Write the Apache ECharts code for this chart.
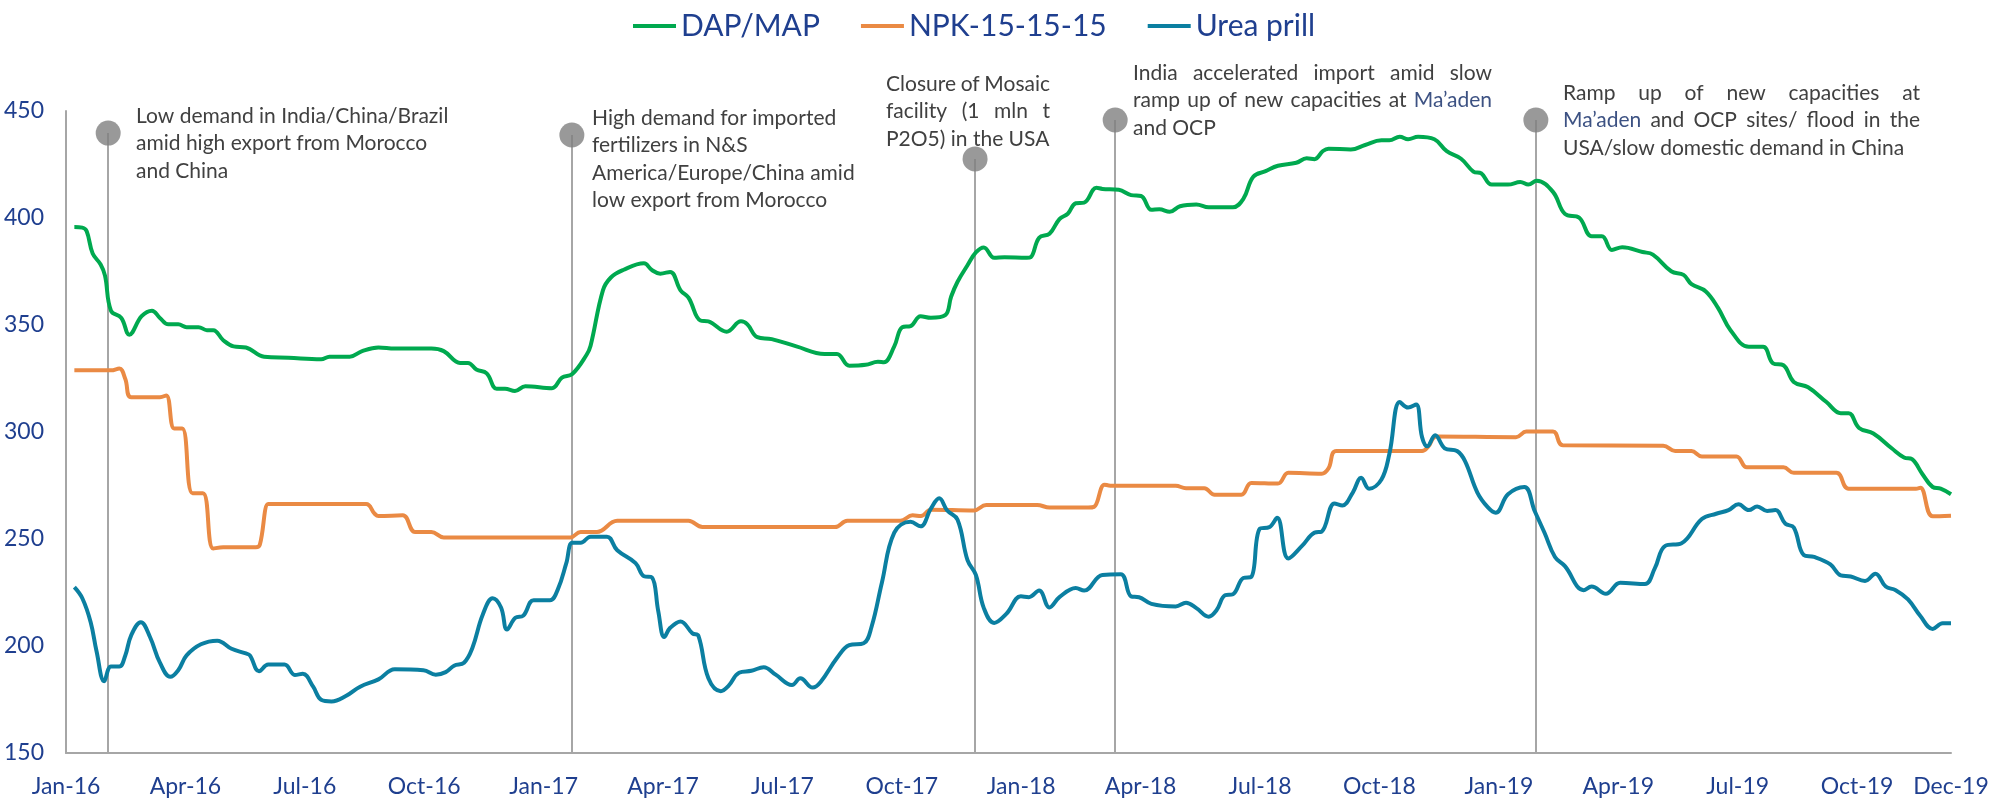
<!DOCTYPE html>
<html>
<head>
<meta charset="utf-8">
<script src="https://cdn.jsdelivr.net/npm/echarts@6/dist/echarts.min.js"></script>
<style>
html,body{margin:0;padding:0;background:#fff;}
#chart{width:2000px;height:806px;}
</style>
</head>
<body>
<div id="chart"></div>
<script>
// x values are months since 1 Jan 2016 (0 = Jan-16)
const seriesNames = ['DAP/MAP', 'NPK-15-15-15', 'Urea prill'];
const xTickLabels = ['Jan-16','Apr-16','Jul-16','Oct-16','Jan-17','Apr-17','Jul-17','Oct-17','Jan-18','Apr-18','Jul-18','Oct-18','Jan-19','Apr-19','Jul-19','Oct-19','Dec-19'];
const X_END = 47.36;

const dapMap = [[0.21,395.8],[0.41,395.5],[0.52,393.8],[0.67,383.4],[0.87,378.3],[0.98,373.1],[1.13,356.7],[1.39,353.3],[1.59,345.5],[1.9,354.1],[2.16,356.7],[2.36,353.3],[2.57,350.3],[2.82,350.3],[3.03,349],[3.33,349],[3.54,347.6],[3.7,347.6],[3.95,342.9],[4.21,340],[4.52,339.5],[4.98,335.2],[5.59,334.7],[6.41,334],[6.62,335.2],[7.13,335.2],[7.44,337.8],[7.85,339.5],[8.26,339],[9.18,339],[9.49,337.8],[9.9,332.3],[10.1,332.3],[10.31,329.2],[10.57,327.4],[10.82,320.2],[11.03,320.2],[11.28,319.2],[11.54,321.4],[12.21,320.5],[12.46,325.4],[12.72,327.1],[13.08,336.1],[13.18,340.3],[13.49,366.2],[13.69,372.2],[14.0,375.7],[14.52,378.8],[14.72,375.7],[14.93,374],[15.18,374.8],[15.44,366.2],[15.64,362.8],[15.94,352.1],[16.14,351.7],[16.6,346.9],[16.96,351.7],[17.12,350.3],[17.37,344.3],[17.73,343.4],[18.35,340],[19.06,336.5],[19.37,336.5],[19.68,331],[20.09,331.4],[20.4,332.8],[20.55,332.6],[20.81,340],[21.01,349],[21.22,349.5],[21.47,354.1],[21.73,353.4],[22.09,354.6],[22.24,363.3],[22.4,370.2],[22.65,377.9],[22.86,383.9],[23.06,386.2],[23.32,381.4],[23.58,381.7],[24.14,381.4],[24.24,381.7],[24.45,390.8],[24.71,392.6],[24.96,399.5],[25.17,402],[25.37,406.9],[25.58,407.2],[25.89,414.1],[26.04,413.6],[26.45,413.2],[26.76,410.7],[27.01,410.3],[27.27,403.8],[27.47,404.1],[27.73,402.9],[27.99,405.5],[28.4,406.3],[28.71,405],[29.32,405],[29.58,408.9],[29.83,419.3],[30.14,421.9],[30.45,424.4],[30.91,425.8],[31.17,427.9],[31.37,427.5],[31.58,431.3],[31.72,432.4],[32.28,432],[32.64,434.1],[33.05,436.3],[33.25,436.3],[33.51,438],[33.72,436.8],[33.97,438],[34.38,436.8],[34.69,431.2],[35.05,427.7],[35.36,421.7],[35.56,420.8],[35.82,415.6],[36.23,415.6],[36.54,416.8],[36.74,415.6],[36.95,417.4],[37.36,412.2],[37.66,401.9],[38.02,400.1],[38.33,391.5],[38.59,391.5],[38.84,385.1],[39.1,386.3],[39.61,384.1],[39.87,382.9],[40.33,375.1],[40.64,373.4],[40.84,369.1],[41.2,365.7],[41.51,357.9],[41.82,347.6],[42.28,339.8],[42.64,339.8],[42.89,332.1],[43.15,331.2],[43.41,323.4],[43.77,320.9],[44.23,314],[44.59,308.8],[44.79,308.8],[45.05,301.9],[45.41,299.3],[45.87,292.4],[46.18,288.1],[46.38,287.3],[46.64,280.4],[46.9,274.3],[47.1,273.5],[47.36,270.9]];

const npk = [[0.21,328.8],[1.13,328.8],[1.34,329.7],[1.49,324.8],[1.64,316.2],[2.36,316.2],[2.52,317.1],[2.72,301.6],[2.92,301.6],[3.18,271.4],[3.44,271.4],[3.7,245.6],[3.95,246.1],[4.77,246.1],[4.87,247.3],[5.08,266.3],[5.18,266.3],[7.54,266.3],[7.75,261.9],[7.85,260.7],[8.46,261.1],[8.77,253.3],[9.18,253.3],[9.49,250.7],[12.67,250.7],[12.93,253.3],[13.34,253.3],[13.85,258.5],[15.64,258.5],[15.99,255.6],[19.32,255.6],[19.63,258.5],[20.96,258.5],[21.27,261.1],[21.48,260.7],[21.73,263.7],[22.81,263.3],[23.12,265.9],[24.4,265.9],[24.71,264.7],[25.68,264.7],[25.83,265],[26.09,275.4],[26.24,274.9],[27.88,274.9],[28.14,273.7],[28.6,273.7],[28.86,270.7],[29.53,270.7],[29.78,276.2],[30.45,275.9],[30.71,280.9],[31.55,280.5],[31.72,283],[31.92,291.1],[34.07,291.1],[34.23,293.3],[34.43,297.9],[36.43,297.6],[36.69,300.2],[37.36,300.2],[37.61,293.8],[40.13,293.6],[40.43,291.1],[40.84,291.1],[41.1,288.6],[41.97,288.6],[42.23,283.5],[43.15,283.5],[43.41,280.9],[44.48,280.9],[44.79,273.5],[46.48,273.5],[46.59,274],[46.9,260.6],[47.36,260.9]];

const urea = [[0.21,227.5],[0.41,222.3],[0.62,211.1],[0.77,197.3],[0.96,183.5],[1.13,190.4],[1.34,190.4],[1.49,195.6],[1.64,205.1],[1.88,211.1],[2.11,204.2],[2.36,192.2],[2.62,185.6],[2.82,188.7],[3.03,195.6],[3.39,200.8],[3.8,202.5],[4.16,198.7],[4.52,196.5],[4.62,195.6],[4.85,188.2],[5.08,191.3],[5.49,191.3],[5.75,186.5],[5.95,187],[6.21,181],[6.41,174.9],[6.67,174.1],[7.03,176.6],[7.39,181],[7.85,184.4],[8.26,189.1],[8.98,188.7],[9.29,186.6],[9.54,187.8],[9.75,190.8],[10.0,192.2],[10.21,199.1],[10.47,214.6],[10.72,222.3],[10.93,218],[11.08,207.7],[11.29,213.2],[11.49,214.2],[11.75,221.4],[12.16,221.4],[12.36,226.6],[12.57,238.7],[12.72,248.2],[12.93,248.2],[13.18,251.1],[13.59,251.1],[13.85,244.7],[14.31,238.7],[14.52,232.6],[14.72,232.1],[14.88,216.3],[15.03,204.2],[15.18,208.5],[15.44,211.5],[15.74,205.9],[15.89,204.7],[16.14,184.9],[16.45,178.9],[16.65,181.5],[16.91,187.5],[17.22,188.4],[17.53,190.1],[17.83,186.6],[18.24,181.8],[18.45,184.9],[18.76,180.6],[18.96,183.2],[19.37,194.4],[19.68,200.4],[20.04,201.3],[20.24,209],[20.5,229.7],[20.81,253],[21.22,258.1],[21.47,255.9],[21.73,264.2],[21.94,269],[22.14,263.3],[22.4,259],[22.65,240.1],[22.86,233.2],[23.06,217.7],[23.32,210.8],[23.63,215.1],[23.99,223.2],[24.19,222.8],[24.45,225.9],[24.71,218],[24.96,222.8],[25.37,227.1],[25.58,225.9],[26.04,233.2],[26.5,233.5],[26.76,223.2],[26.96,222.8],[27.27,219.7],[27.88,218.5],[28.14,220.2],[28.4,217.7],[28.71,213.7],[28.91,216.8],[29.12,223.7],[29.32,224.2],[29.58,231.8],[29.78,232.3],[29.99,254.7],[30.24,255.6],[30.43,259.9],[30.71,240.9],[31.06,246.9],[31.37,253],[31.55,253.5],[31.87,266.6],[32.07,265.7],[32.33,271.7],[32.54,278.6],[32.74,273.5],[33.05,277.8],[33.25,289.8],[33.51,314],[33.72,311.4],[33.92,312.8],[34.07,297.6],[34.2,293.3],[34.4,298.5],[34.64,292.4],[34.95,291.1],[35.15,286.4],[35.46,271.7],[35.72,264.9],[35.92,262.3],[36.23,270.9],[36.64,274.3],[36.9,263.1],[37.15,252.8],[37.41,241.6],[37.66,237.3],[38.13,226.1],[38.33,227.8],[38.69,224.4],[39.05,229.5],[39.67,229],[39.92,236.4],[40.18,246.8],[40.59,248],[41.1,259.3],[41.46,261.8],[41.77,263.5],[42.02,266.2],[42.28,263.5],[42.49,265.2],[42.74,263.1],[42.95,263.5],[43.2,257.1],[43.41,255.4],[43.66,242.5],[43.92,241.6],[44.33,238.1],[44.59,233],[44.84,232.5],[45.2,230.4],[45.46,233.8],[45.72,227.8],[45.97,226.1],[46.28,221.8],[46.59,214],[46.9,208],[47.15,210.6],[47.36,210.6]];

// event markers: [month, value of the marker dot]
const events = [[1.06,439.7],[12.71,438.8],[22.84,427.6],[26.36,445.8],[36.93,445.8]];

const noteTexts = [
  ['Low demand in India/China/Brazil', 'amid high export from Morocco', 'and China'],
  ['High demand for imported', 'fertilizers in N&S', 'America/Europe/China amid', 'low export from Morocco'],
  ['Closure of Mosaic', 'facility (1 mln t', 'P2O5) in the USA'],
  ['India accelerated import amid slow', 'ramp up of new capacities at Ma’aden', 'and OCP'],
  ['Ramp up of new capacities at', 'Ma’aden and OCP sites/ flood in the', 'USA/slow domestic demand in China']
];

const FONT = 'Lato';
const BLUE = '#1f3f8f';
const colors = ['#00a94f', '#ea8a44', '#0b7fa1'];

// Annotation layout (pixels)
const noteLayout = [
  {left: 136, right: null, top: 116, lh: 27.5, justify: [false,false,false]},
  {left: 592, right: null, top: 118, lh: 27.5, justify: [false,false,false,false]},
  {left: 886, right: 1050, top: 84, lh: 27.5, justify: [true,true,false]},
  {left: 1133, right: 1492, top: 73, lh: 27.5, justify: [true,true,false]},
  {left: 1563, right: 1920, top: 93, lh: 27.5, justify: [true,true,false]}
];
const NOTE_FONT_SIZE = 21;

const canvas = document.createElement('canvas');
const ctx = canvas.getContext('2d');
ctx.font = NOTE_FONT_SIZE + 'px ' + FONT;

const graphics = [];
noteTexts.forEach((lines, ni) => {
  const L = noteLayout[ni];
  lines.forEach((line, li) => {
    const y = L.top + li * L.lh;
    const words = line.split(' ');
    const widths = words.map(w => ctx.measureText(w).width);
    const spaceW = ctx.measureText(' ').width;
    let gap = spaceW;
    if (L.justify[li] && L.right && words.length > 1) {
      const total = widths.reduce((a, b) => a + b, 0);
      gap = Math.max(spaceW * 0.6, (L.right - L.left - total) / (words.length - 1));
    }
    let x = L.left;
    words.forEach((w, wi) => {
      graphics.push({
        type: 'text', x: x, y: y, silent: true,
        style: {
          text: w, font: NOTE_FONT_SIZE + 'px ' + FONT,
          fill: w.indexOf('Ma’aden') === 0 ? '#3d5283' : '#404040',
          align: 'left', verticalAlign: 'middle'
        }
      });
      x += widths[wi] + gap;
    });
  });
});

const chart = echarts.init(document.getElementById('chart'));

const lineSeries = [dapMap, npk, urea].map((d, i) => ({
  name: seriesNames[i],
  type: 'line',
  data: d,
  smooth: 0.4,
  showSymbol: false,
  symbol: 'none',
  z: 3,
  lineStyle: {width: 4, color: colors[i]},
  itemStyle: {color: colors[i]},
  emphasis: {disabled: true}
}));

chart.setOption({
  animation: false,
  backgroundColor: '#fff',
  grid: {left: 66, right: 49, top: 111, bottom: 53, containLabel: false},
  legend: {
    data: seriesNames,
    left: 628, top: 6,
    icon: 'rect', itemWidth: 43, itemHeight: 4, itemGap: 41,
    textStyle: {fontFamily: FONT, fontSize: 30, color: BLUE, padding: [0,0,0,0]}
  },
  xAxis: {
    type: 'value', min: 0, max: X_END, interval: 3,
    splitLine: {show: false},
    axisTick: {show: false},
    axisLine: {show: true, lineStyle: {color: '#a6a6a6', width: 2}},
    axisLabel: {
      fontFamily: FONT, fontSize: 23, color: BLUE, margin: 22,
      showMaxLabel: true, showMinLabel: true,
      formatter: function (v) {
        if (v >= X_END - 0.01) return xTickLabels[xTickLabels.length - 1];
        const i = Math.round(v / 3);
        return xTickLabels[i] || '';
      }
    }
  },
  yAxis: {
    type: 'value', min: 150, max: 450, interval: 50,
    splitLine: {show: false},
    axisTick: {show: false},
    axisLine: {show: true, lineStyle: {color: '#a6a6a6', width: 2}},
    axisLabel: {fontFamily: FONT, fontSize: 23, color: BLUE, margin: 22}
  },
  series: lineSeries.concat([{
    name: 'events',
    type: 'scatter',
    data: events,
    symbol: 'circle',
    symbolSize: 25,
    clip: false,
    z: 4,
    itemStyle: {color: '#7f7f7f'},
    emphasis: {disabled: true},
    silent: true,
    markLine: {
      silent: true,
      symbol: ['none', 'none'],
      label: {show: false},
      lineStyle: {color: '#a6a6a6', width: 2, type: 'solid'},
      z: 1,
      data: events.map(e => [{coord: [e[0], e[1]]}, {coord: [e[0], 150]}])
    }
  }]),
  graphic: graphics
});
</script>
</body>
</html>
